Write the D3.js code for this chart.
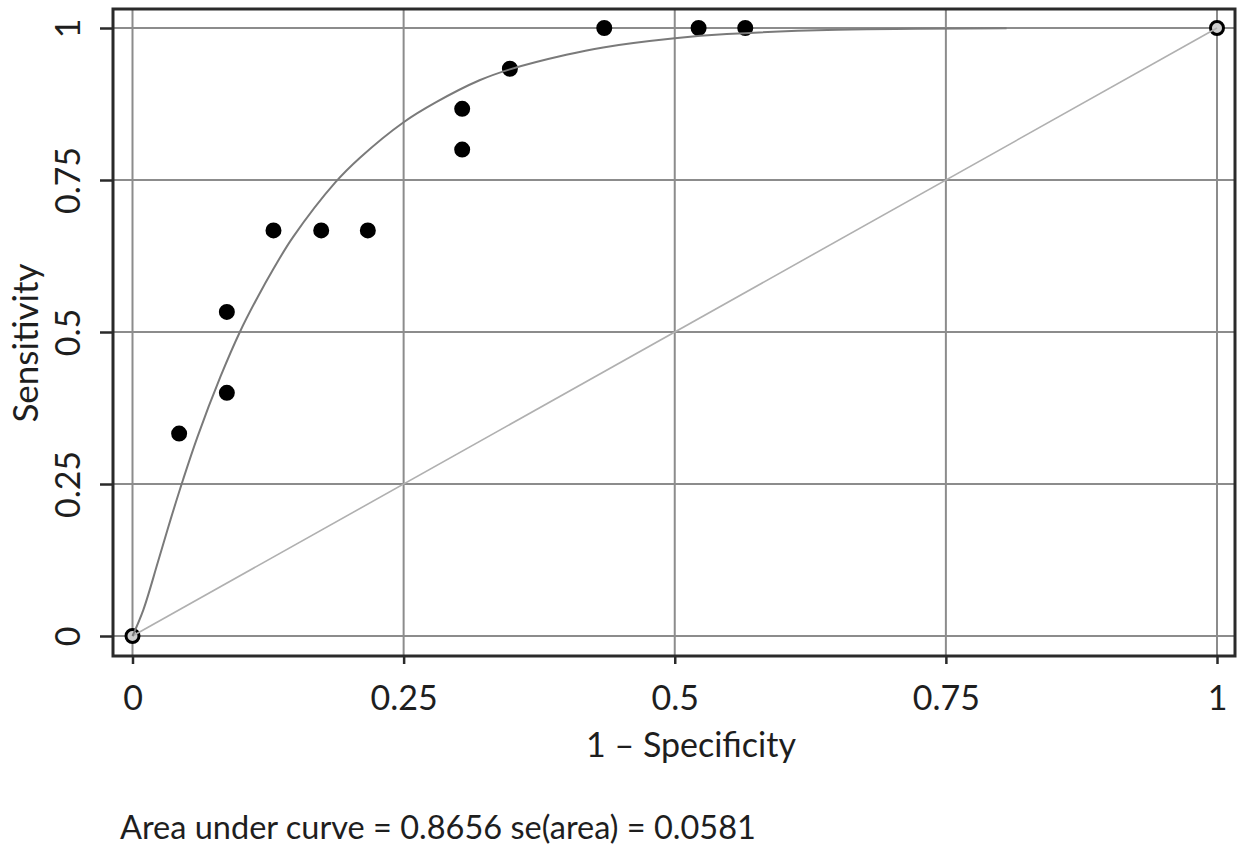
<!DOCTYPE html>
<html>
<head>
<meta charset="utf-8">
<script src="https://cdn.jsdelivr.net/npm/d3@7"></script>
<style>
  body { margin: 0; background: #fff; }
  svg text { font-family: Lato, "Open Sans", sans-serif; fill: #1e1e1e; }
</style>
</head>
<body>
<svg id="chart" width="1237" height="860"></svg>
<script>
// observed ROC points (1 - specificity, sensitivity)
const fpr = [0, 0.043, 0.087, 0.087, 0.13, 0.174, 0.217, 0.304, 0.304, 0.348, 0.435, 0.522, 0.565, 1];
const sens = [0, 0.333, 0.4, 0.533, 0.667, 0.667, 0.667, 0.8, 0.867, 0.933, 1, 1, 1, 1];

// smooth fitted curve
const fitX = [0, 0.01, 0.0235, 0.035, 0.0466, 0.06, 0.081, 0.099, 0.115, 0.13, 0.148, 0.187, 0.21, 0.25, 0.28, 0.32, 0.348, 0.4, 0.434, 0.5, 0.548, 0.65, 0.806];
const fitY = [0, 0.043, 0.122, 0.191, 0.257, 0.328, 0.426, 0.5, 0.556, 0.604, 0.656, 0.746, 0.787, 0.845, 0.878, 0.914, 0.932, 0.956, 0.968, 0.983, 0.99, 0.997, 0.9995];

const ticks = [0, 0.25, 0.5, 0.75, 1];
const tickLabels = ["0", "0.25", "0.5", "0.75", "1"];

const xTitle = "1 \u2013 Specificity";
const yTitle = "Sensitivity";
const note = "Area under curve = 0.8656 se(area) = 0.0581";

const svg = d3.select("#chart");

// frame box in px
const box = { left: 113, right: 1235, top: 9, bottom: 656 };

const x = d3.scaleLinear().domain([0, 1]).range([132.5, 1217]);
const y = d3.scaleLinear().domain([0, 1]).range([636, 28]);

// grid
const grid = svg.append("g").attr("class", "grid")
    .attr("stroke", "#8c8c8c").attr("stroke-width", 2);
grid.selectAll("line.v").data(ticks).join("line").attr("class", "v")
    .attr("x1", d => x(d)).attr("x2", d => x(d))
    .attr("y1", box.top).attr("y2", box.bottom);
grid.selectAll("line.h").data(ticks).join("line").attr("class", "h")
    .attr("y1", d => y(d)).attr("y2", d => y(d))
    .attr("x1", box.left).attr("x2", box.right);

// axes (ticks only, domain line replaced by the frame)
const fmt = (d, i) => tickLabels[i];
const xAxis = svg.append("g")
    .attr("transform", `translate(0,${box.bottom})`)
    .call(d3.axisBottom(x).tickValues(ticks).tickFormat(fmt).tickSize(8));
const yAxis = svg.append("g")
    .attr("transform", `translate(${box.left},0)`)
    .call(d3.axisLeft(y).tickValues(ticks).tickFormat(fmt).tickSize(13));

[xAxis, yAxis].forEach(a => {
    a.select(".domain").remove();
    a.selectAll(".tick line").attr("stroke", "#2a2a2a").attr("stroke-width", 2.5);
    a.selectAll(".tick text").attr("font-size", 34).attr("fill", "#1e1e1e");
});
xAxis.selectAll(".tick text").attr("dy", null).attr("y", 54);
yAxis.selectAll(".tick text")
    .attr("x", null).attr("dy", null)
    .attr("text-anchor", "middle")
    .attr("transform", "translate(-33,0) rotate(-90)");

// frame
svg.append("rect")
    .attr("x", box.left).attr("y", box.top)
    .attr("width", box.right - box.left).attr("height", box.bottom - box.top)
    .attr("fill", "none").attr("stroke", "#2a2a2a").attr("stroke-width", 3);

// markers
const pts = fpr.map((v, i) => ({ x: v, y: sens[i] }));
svg.append("g").selectAll("circle").data(pts).join("circle")
    .attr("cx", d => x(d.x)).attr("cy", d => y(d.y))
    .attr("r", 6.5)
    .attr("fill", d => (d.x === 0 || d.x === 1) ? "#cfcfcf" : "#000")
    .attr("stroke", "#000").attr("stroke-width", 3);

// reference diagonal
svg.append("path")
    .datum([[0, 0], [1, 1]])
    .attr("fill", "none").attr("stroke", "#b0b0b0").attr("stroke-width", 1.6)
    .attr("d", d3.line().x(d => x(d[0])).y(d => y(d[1])));

// fitted curve
svg.append("path")
    .datum(fitX.map((v, i) => [v, fitY[i]]))
    .attr("fill", "none").attr("stroke", "#7a7a7a").attr("stroke-width", 2)
    .attr("d", d3.line().x(d => x(d[0])).y(d => y(d[1])).curve(d3.curveCatmullRom.alpha(0.5)));

// titles
svg.append("text")
    .attr("x", 691).attr("y", 757)
    .attr("text-anchor", "middle").attr("font-size", 34)
    .text(xTitle);

svg.append("text")
    .attr("transform", "translate(38,343) rotate(-90)")
    .attr("text-anchor", "middle").attr("font-size", 35)
    .text(yTitle);

svg.append("text")
    .attr("x", 120).attr("y", 839)
    .attr("font-size", 32.5)
    .text(note);
</script>
</body>
</html>
